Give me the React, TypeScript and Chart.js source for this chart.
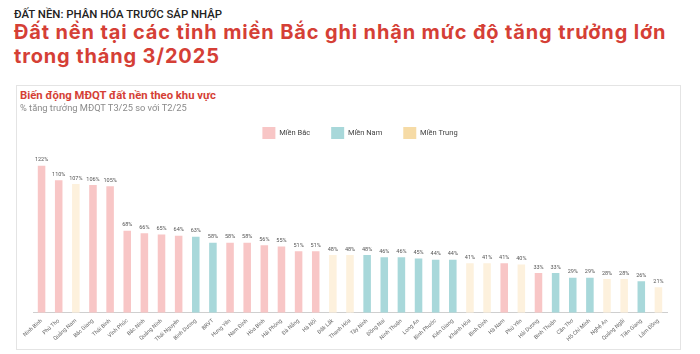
import React, { useEffect, useRef } from "react";
import { Chart, registerables } from "chart.js";
Chart.register(...registerables);

const provinces = [
  "Ninh Bình", "Phú Thọ", "Quảng Nam", "Bắc Giang", "Thái Bình", "Vĩnh Phúc", "Bắc Ninh",
  "Quảng Ninh", "Thái Nguyên", "Bình Dương", "BRVT", "Hưng Yên", "Nam Định", "Hòa Bình",
  "Hải Phòng", "Đà Nẵng", "Hà Nội", "Đắk Lắk", "Thanh Hóa", "Tây Ninh", "Đồng Nai",
  "Ninh Thuận", "Long An", "Bình Phước", "Kiên Giang", "Khánh Hòa", "Bình Định", "Hà Nam",
  "Phú Yên", "Hải Dương", "Bình Thuận", "Cần Thơ", "Hồ Chí Minh", "Nghệ An", "Quảng Ngãi",
  "Tiền Giang", "Lâm Đồng",
];
const growth = [
  122, 110, 107, 106, 105, 68, 66, 65, 64, 63, 58, 58, 58, 56, 55, 51, 51, 48, 48, 48, 46,
  46, 45, 44, 44, 41, 41, 41, 40, 33, 33, 29, 29, 28, 28, 26, 21,
];
const regions = [
  "Bắc", "Bắc", "Trung", "Bắc", "Bắc", "Bắc", "Bắc", "Bắc", "Bắc", "Nam", "Nam", "Bắc", "Bắc",
  "Bắc", "Bắc", "Bắc", "Bắc", "Trung", "Trung", "Nam", "Nam", "Nam", "Nam", "Nam", "Nam",
  "Trung", "Trung", "Bắc", "Trung", "Bắc", "Nam", "Nam", "Nam", "Trung", "Trung", "Nam", "Trung",
];
const regionKeys = ["Bắc", "Nam", "Trung"];
const regionNames = ["Miền Bắc", "Miền Nam", "Miền Trung"];
const barColors = ["#f8c6c6", "#a8d8da", "#fdf1dd"];
const legendColors = ["#f8c6c6", "#a8d8da", "#f6dba6"];

const RED = "#d53f36";

const valueLabels = {
  id: "valueLabels",
  afterDatasetsDraw(chart: any) {
    const ctx = chart.ctx;
    ctx.save();
    ctx.font = "5.5px Roboto";
    ctx.fillStyle = "#555";
    ctx.textAlign = "center";
    ctx.textBaseline = "bottom";
    chart.data.datasets.forEach((ds: any, di: number) => {
      const meta = chart.getDatasetMeta(di);
      meta.data.forEach((el: any, i: number) => {
        const v = ds.data[i];
        if (v == null) return;
        ctx.fillText(v + "%", el.x, el.y - 3);
      });
    });
    ctx.restore();
  },
};

// nudge the centred legend slightly right, as in the reference
const legendShift = {
  id: "legendShift",
  afterLayout(chart: any) {
    const l = chart.legend;
    if (l) {
      l.left += 10;
      l.right += 10;
    }
  },
};

function BarChart() {
  const ref = useRef<HTMLCanvasElement>(null);
  useEffect(() => {
    if (!ref.current) return;
    const datasets = regionKeys.map((k, i) => ({
      label: regionNames[i],
      data: growth.map((v, j) => (regions[j] === k ? v : null)),
      backgroundColor: barColors[i],
      borderWidth: 0,
      barPercentage: 0.44,
      categoryPercentage: 1,
      stack: "s",
    }));
    const chart = new Chart(ref.current, {
      type: "bar",
      data: { labels: provinces, datasets },
      plugins: [valueLabels, legendShift],
      options: {
        responsive: false,
        animation: false,
        devicePixelRatio: 1,
        layout: { padding: { left: 16, right: 13, top: 0, bottom: 0 } },
        plugins: {
          tooltip: { enabled: false },
          legend: {
            position: "top",
            align: "center",
            labels: {
              boxWidth: 13,
              boxHeight: 12,
              padding: 21,
              color: "#444",
              font: { family: "Roboto", size: 7.5 },
              generateLabels: () =>
                regionNames.map((n, i) => ({
                  text: n,
                  fillStyle: legendColors[i],
                  strokeStyle: legendColors[i],
                  lineWidth: 0,
                  hidden: false,
                  datasetIndex: i,
                  fontColor: "#444",
                })),
            },
          },
        },
        scales: {
          x: {
            stacked: true,
            grid: { display: false, drawTicks: false },
            border: { display: true, color: "#cfcfcf" },
            ticks: {
              autoSkip: false,
              minRotation: 42,
              maxRotation: 42,
              padding: 5,
              color: "#666",
              font: { family: "Roboto", size: 5.5 },
            },
          },
          y: {
            stacked: true,
            display: false,
            min: 0,
            max: 136,
          },
        },
      },
    } as any);
    return () => chart.destroy();
  }, []);
  return (
    <canvas
      ref={ref}
      width={663}
      height={242}
      style={{ position: "absolute", left: 17, top: 106, width: 663, height: 242 }}
    />
  );
}

export default function App() {
  return (
    <div
      style={{
        position: "fixed",
        left: 0,
        top: 0,
        width: 700,
        height: 354,
        background: "#fff",
        overflow: "hidden",
      }}
    >
      <div
        style={{
          position: "absolute",
          left: 14,
          top: 8.7,
          font: "500 11.4px Roboto",
          lineHeight: 1,
          color: "#222",
          whiteSpace: "nowrap",
        }}
      >
        ĐẤT NỀN: PHÂN HÓA TRƯỚC SÁP NHẬP
      </div>
      <div
        style={{
          position: "absolute",
          left: 14,
          top: 19.5,
          font: "700 20px Inter",
          letterSpacing: "0.85px",
          lineHeight: "24px",
          color: RED,
          whiteSpace: "nowrap",
        }}
      >
        Đất nền tại các tỉnh miền Bắc ghi nhận mức độ tăng trưởng lớn
        <br />
        trong tháng 3/2025
      </div>
      <div
        style={{
          position: "absolute",
          left: 16,
          top: 85,
          width: 665,
          height: 265,
          border: "1px solid #e4e4e4",
          boxSizing: "border-box",
          background: "#fff",
        }}
      />
      <div
        style={{
          position: "absolute",
          left: 20,
          top: 89.5,
          font: "700 11.3px Roboto",
          lineHeight: 1,
          color: RED,
          whiteSpace: "nowrap",
          zIndex: 2,
        }}
      >
        Biến động MĐQT đất nền theo khu vực
      </div>
      <div
        style={{
          position: "absolute",
          left: 20,
          top: 103.2,
          font: "400 9.3px Roboto",
          lineHeight: 1,
          color: "#8a8a8a",
          whiteSpace: "nowrap",
          zIndex: 2,
        }}
      >
        % tăng trưởng MĐQT T3/25 so với T2/25
      </div>
      <BarChart />
    </div>
  );
}
